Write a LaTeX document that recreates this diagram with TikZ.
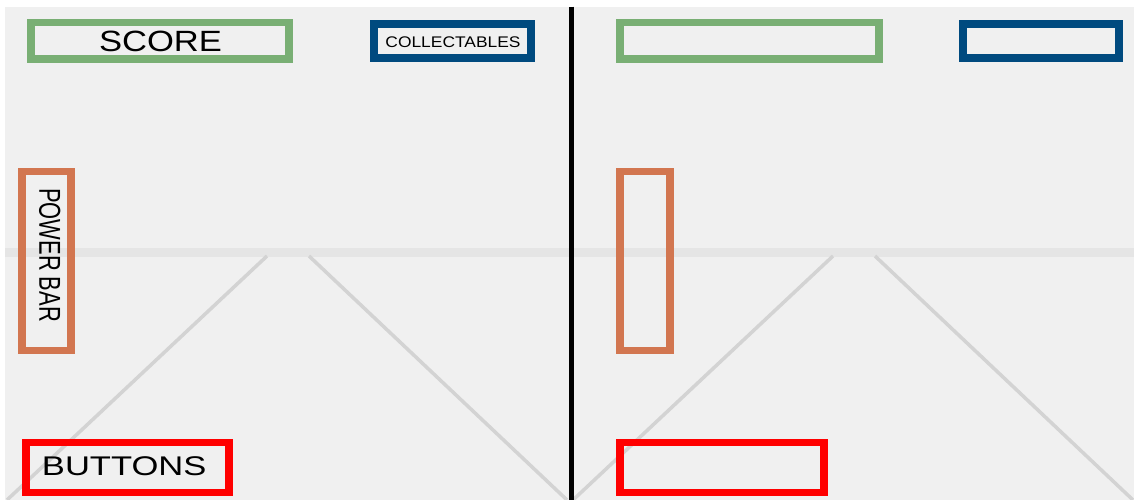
\documentclass[tikz,border=0pt]{standalone}
\usepackage{fontspec}
\setmainfont{Liberation Sans}
\usepackage{graphicx}
\definecolor{screenbg}{HTML}{F0F0F0}
\definecolor{horizon}{HTML}{E5E5E5}
\definecolor{guide}{HTML}{D3D3D3}
\definecolor{scoregreen}{HTML}{79AF74}
\definecolor{collectblue}{HTML}{004A7F}
\definecolor{powerorange}{HTML}{D27650}
\definecolor{buttonred}{HTML}{FF0000}

\begin{document}
\begin{tikzpicture}[x=1pt, y=-1pt,
  hudbox/.style={draw, line width=7.5pt, inner sep=0pt, minimum width=#1},
  hudtext/.style={inner sep=0pt, text=black}]
  \useasboundingbox (0,0) rectangle (1134,500);
  \fill[white] (0,0) rectangle (1134,500);

  % Screen background, horizon band and floor guides
  \fill[screenbg] (4.7,6.7) rectangle (1134,500);
  \fill[horizon] (4.7,248) rectangle (1134,256.5);
  \foreach \ox in {0,566} {
    \draw[guide, line width=3.5pt] ({267+\ox},256) -- ({7+\ox},500);
    \draw[guide, line width=3.5pt] ({309+\ox},256) -- ({567+\ox},500);
  }

  % Divider between the two screens
  \draw[black, line width=5pt] (571,6.7) -- (571,500);

  % Left screen, labelled
  \node[hudbox=258pt, minimum height=36.5pt, draw=scoregreen] (score) at (160,41) {};
  \node[hudbox=157pt, minimum height=34pt, draw=collectblue] (collect) at (452.5,41.2) {};
  \node[hudbox=49pt, minimum height=179pt, draw=powerorange] (power) at (46.5,261) {};
  \node[hudbox=203pt, minimum height=50pt, draw=buttonred] (buttons) at (127.5,467.5) {};

  \node[hudtext] (scoretxt) at (160.5,41.2) {\scalebox{1.18}[1]{\fontsize{29.3}{30}\selectfont SCORE}};
  \node[hudtext] (collecttxt) at (453,42) {\scalebox{1.13}[1]{\fontsize{15.4}{16}\selectfont COLLECTABLES}};
  \node[hudtext] (powertxt) at (49.9,255) {\scalebox{1.38}[1]{\rotatebox{-90}{\fontsize{21.9}{22}\selectfont POWER BAR}}};
  \node[hudtext] (buttonstxt) at (124.2,466) {\scalebox{1.28}[1]{\fontsize{27}{28}\selectfont BUTTONS}};

  % Right screen, empty frames
  \node[hudbox=259pt, minimum height=36.5pt, draw=scoregreen] (score2) at (749.5,41) {};
  \node[hudbox=156pt, minimum height=34pt, draw=collectblue] (collect2) at (1041,41.2) {};
  \node[hudbox=50pt, minimum height=179pt, draw=powerorange] (power2) at (645,261) {};
  \node[hudbox=204pt, minimum height=50pt, draw=buttonred] (buttons2) at (722,467.5) {};
\end{tikzpicture}
\end{document}
